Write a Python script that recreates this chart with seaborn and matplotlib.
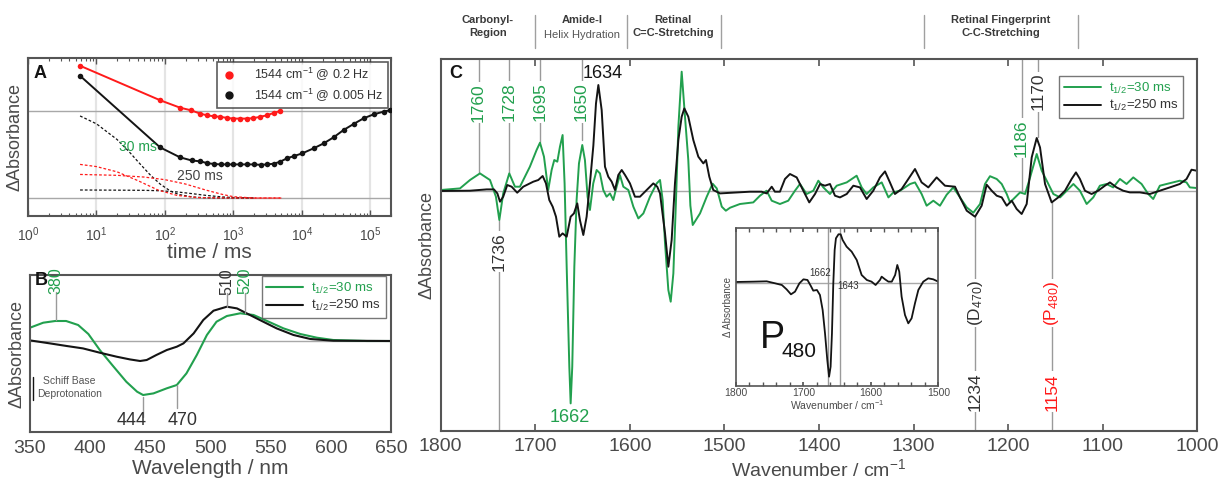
import matplotlib
matplotlib.use("Agg")
import matplotlib.pyplot as plt
from matplotlib.lines import Line2D
from matplotlib.ticker import MultipleLocator, LogLocator, NullFormatter
import seaborn as sns

# ---------------- data ----------------
# Panel A: kinetics at 1544 cm-1
A_red_t = [5.76, 85, 166, 240, 326, 409, 513, 646, 804, 1000, 1260, 1585, 1950, 2450, 3090, 3890, 4800]
A_red_v = [1.515, 1.12, 1.035, 1.005, 0.967, 0.948, 0.937, 0.93, 0.918, 0.91, 0.91, 0.91, 0.915, 0.93, 0.948, 0.975, 0.997]
A_blk_t = [5.76, 85, 166, 246, 330, 410, 520, 650, 800, 1000, 1260, 1585, 2000, 2500, 3100, 3900, 4800,
           6030, 7600, 10000, 14900, 20800, 29000, 40600, 56900, 79600, 112000, 156000, 196000]
A_blk_v = [1.40, 0.58, 0.466, 0.43, 0.42, 0.40, 0.39, 0.385, 0.385, 0.385, 0.385, 0.385, 0.385, 0.38, 0.385, 0.393, 0.416,
           0.454, 0.48, 0.51, 0.57, 0.626, 0.695, 0.779, 0.848, 0.913, 0.959, 0.989, 1.008]
A_c30_t = [5.76, 10, 20, 30, 40, 60, 85, 120, 160, 250, 400, 1000, 2000]
A_c30_v = [0.94, 0.85, 0.67, 0.53, 0.42, 0.27, 0.16, 0.08, 0.04, 0.012, 0.002, 0.0, 0.0]
A_c250_t = [5.76, 20, 50, 85, 150, 250, 400, 700, 1000, 2000]
A_c250_v = [0.092, 0.09, 0.088, 0.083, 0.07, 0.05, 0.03, 0.012, 0.005, 0.0]
A_r1_t = [5.76, 10, 20, 40, 80, 150, 300, 1000, 5000]
A_r1_v = [0.385, 0.36, 0.30, 0.20, 0.09, 0.03, 0.005, 0.0, 0.0]
A_r2_t = [5.76, 20, 50, 100, 200, 400, 700, 1000, 2000, 5000]
A_r2_v = [0.27, 0.26, 0.24, 0.21, 0.16, 0.09, 0.04, 0.015, 0.0, 0.0]
A_ticks = [1, 10, 100, 1000, 10000, 100000]

# Panel B: difference spectra in the visible
B_green_nm = [350, 361, 371, 380, 390, 398.5, 408, 419, 430, 439, 444, 452.6, 463.7, 472, 480, 488.6, 497, 505,
              513.6, 524.7, 535.8, 547, 560.7, 574.6, 588.4, 602, 630, 650]
B_green_v = [0.13, 0.18, 0.197, 0.197, 0.157, 0.067, -0.093, -0.253, -0.41, -0.51, -0.543, -0.527, -0.476, -0.443,
             -0.327, -0.143, 0.057, 0.19, 0.247, 0.274, 0.257, 0.197, 0.123, 0.067, 0.03, 0.007, -0.003, -0.003]
B_black_nm = [350, 366.6, 380.5, 394, 408, 422, 433, 441.5, 447, 455, 463.7, 472, 477.5, 486, 494, 502.5, 513.6,
              522, 530, 541, 555, 569, 583, 602, 650]
B_black_v = [0.003, -0.027, -0.053, -0.077, -0.12, -0.16, -0.187, -0.203, -0.193, -0.143, -0.093, -0.06, -0.027,
             0.073, 0.207, 0.3, 0.34, 0.323, 0.274, 0.207, 0.123, 0.057, 0.017, 0.0, -0.003]
B_ticks = [350, 400, 450, 500, 550, 600, 650]

# Panel C: IR difference spectra
C_green_wn = [1800, 1779.6, 1769, 1758.5, 1747.9, 1741.6, 1738, 1733.9, 1727.5, 1721.5, 1716.2, 1705.7, 1698.6, 1695,
              1690.8, 1686.3, 1682.7, 1679.9, 1676.7, 1673.9, 1671.1, 1669, 1666.8, 1664, 1662.6, 1660.9, 1658.7,
              1656.3, 1653.8, 1650.3, 1647.5, 1644.7, 1642.2, 1638.7, 1635.1, 1631.6, 1628.1, 1624.6, 1621, 1617.5,
              1614, 1610.5, 1606.9, 1601.6, 1596.3, 1591, 1585.7, 1578.7, 1571.6, 1568.1, 1565.3, 1562.8, 1559.3,
              1556.8, 1554, 1551.2, 1548.7, 1545.2, 1541.7, 1538.2, 1536, 1533.5, 1525.8, 1518.7, 1512.5, 1508.1,
              1502.8, 1498.5, 1494, 1483.6, 1469.5, 1462.4, 1455.4, 1450, 1441.3, 1432.5, 1425.4, 1420.1, 1413.1,
              1406, 1400.7, 1395.4, 1388.4, 1381.3, 1370.7, 1360.2, 1354.9, 1349.6, 1342.6, 1333.7, 1326.6, 1321.4,
              1314.3, 1303.7, 1298.5, 1291.5, 1286.2, 1279.1, 1272.1, 1265, 1258, 1250.9, 1243.8, 1236.8, 1229.7,
              1224.5, 1219.2, 1212.1, 1206.8, 1201.5, 1198, 1192.7, 1187.4, 1182.1, 1176.8, 1169.8, 1164.5, 1159.2,
              1152.2, 1145.1, 1138, 1131, 1124.1, 1117, 1110, 1103, 1095.9, 1088.9, 1081.8, 1074.8, 1067.7, 1058.9,
              1051.9, 1046.6, 1039.6, 1032.5, 1025.5, 1018.5, 1011.4, 1007.9, 1000.8]
C_green_v = [0.007, 0.023, 0.107, 0.173, 0.107, -0.06, -0.293, -0.027, 0.173, 0.04, 0.04, 0.24, 0.407, 0.48,
             0.34, 0.007, 0.207, 0.307, 0.29, 0.44, 0.557, 0.073, -0.76, -1.76, -2.127, -1.76, -0.76,
             -0.093, 0.273, 0.457, 0.307, -0.06, -0.193, 0.073, 0.207, 0.173, 0.007, -0.06, -0.027, -0.093,
             0.04, 0.157, 0.04, 0.007, -0.16, -0.277, -0.227, -0.06, 0.073, 0.107, -0.093, -0.527, -0.993,
             -1.11, -0.827, -0.093, 0.64, 1.19, 0.74, 0.307, -0.15, -0.343, -0.227, -0.06, 0.07, 0.023,
             -0.16, -0.2, -0.17, -0.133, -0.117, -0.05, 0.0, -0.1, -0.133, -0.1, 0.0, 0.067, -0.033,
             0.0, 0.1, 0.033, -0.033, 0.05, 0.083, 0.15, 0.033, -0.033, 0.033, 0.083, -0.067, -0.017,
             0.0, 0.067, 0.083, -0.033, -0.15, -0.1, -0.15, -0.04, 0.033, -0.067, -0.167, -0.22, -0.133,
             0.067, 0.145, 0.117, 0.067, -0.033, -0.117, -0.067, -0.017, -0.033, 0.133, 0.367, 0.2, 0.1,
             -0.033, -0.067, 0.0, 0.067, 0.0, -0.133, -0.067, 0.05, 0.067, 0.033, 0.117, 0.067, 0.133, 0.067,
             -0.033, -0.083, 0.05, 0.067, 0.083, 0.1, 0.083, 0.033, 0.027]
C_black_wn = [1800, 1769, 1751.4, 1743.7, 1740.1, 1737.3, 1733.9, 1729.6, 1725, 1719.1, 1712.7, 1702.1, 1696.8,
              1692.2, 1688.7, 1685.2, 1681.6, 1678.1, 1674.6, 1671.1, 1666.8, 1662.6, 1659.1, 1655.6, 1652.8,
              1649.2, 1645.7, 1642.2, 1638.6, 1635.8, 1633.3, 1629.8, 1626.3, 1622.8, 1619.2, 1615.7, 1612.2,
              1608.6, 1605.1, 1599.9, 1594.6, 1589.3, 1582.2, 1575.2, 1571, 1568.1, 1562.8, 1559.3, 1555.8,
              1552.3, 1548.7, 1545.2, 1542.4, 1538.2, 1532.9, 1527.6, 1522.3, 1519.5, 1516, 1511.8, 1504.7,
              1490.6, 1473, 1460.7, 1455.4, 1450, 1446.6, 1441.3, 1436, 1430.7, 1423.6, 1416.6, 1410.3, 1404.2,
              1398.9, 1393.7, 1388.4, 1383.1, 1377.8, 1370.7, 1363.7, 1356.7, 1349.6, 1342.6, 1335.5, 1330.2,
              1325, 1319.7, 1312.6, 1305.6, 1298.5, 1291.5, 1284.4, 1275.6, 1266.8, 1256.2, 1250.9, 1243.8,
              1235, 1228, 1222.7, 1217.4, 1212.1, 1206.8, 1201.5, 1196.2, 1191, 1185.7, 1180.4, 1175.1, 1169.8,
              1166.3, 1161, 1154, 1147, 1139.9, 1132.9, 1128.3, 1124.1, 1118.8, 1111.8, 1104.8, 1097.7, 1092.4,
              1085.4, 1078.4, 1071.3, 1060.7, 1050.2, 1039.6, 1029, 1018.5, 1011.4, 1006.1, 1000.8]
C_black_v = [-0.003, 0.0, 0.013, 0.013, -0.027, -0.11, -0.06, 0.057, 0.04, -0.02, 0.04, 0.09, 0.107,
             0.147, 0.073, -0.093, -0.16, -0.26, -0.46, -0.427, -0.46, -0.26, -0.227, -0.127, -0.293,
             -0.443, -0.26, 0.073, 0.45, 0.873, 1.057, 0.807, 0.24, 0.14, 0.09, 0.007, 0.157,
             0.207, 0.157, 0.073, -0.06, -0.06, 0.007, 0.073, 0.04, -0.027, -0.427, -0.76, -0.493,
             0.073, 0.507, 0.74, 0.823, 0.74, 0.507, 0.34, 0.273, 0.307, 0.14, 0.007, -0.027,
             -0.02, -0.01, -0.01, -0.027, 0.04, -0.01, -0.01, 0.117, 0.167, 0.133, 0.0, -0.117, -0.033,
             0.067, 0.05, 0.067, -0.05, -0.067, -0.033, 0.05, 0.033, -0.083, 0.0, 0.133, 0.193,
             0.083, -0.033, 0.017, 0.117, 0.217, 0.083, 0.033, 0.133, 0.05, 0.04, -0.067, -0.2,
             -0.26, -0.15, 0.06, 0.0, -0.05, -0.067, -0.15, -0.1, -0.183, -0.233, -0.133, 0.333, 0.527,
             0.433, 0.067, -0.117, -0.067, 0.0, 0.117, 0.183, 0.117, 0.0, -0.033, 0.0, 0.05, 0.083,
             0.033, 0.0, -0.017, -0.017, -0.033, 0.0, 0.033, 0.067, 0.117, 0.21, 0.2]
C_ticks = [1800, 1700, 1600, 1500, 1400, 1300, 1200, 1100, 1000]

# Inset: P480 spectrum
I_wn = [1800, 1774, 1754.5, 1742, 1732, 1725, 1718.5, 1712.5, 1706, 1700, 1694, 1689, 1685.4, 1680, 1675.5,
        1671.5, 1668, 1664.6, 1662, 1659.7, 1657.7, 1655.7, 1653.7, 1651.8, 1648, 1644.8, 1641.9, 1636, 1628.5,
        1621, 1613.7, 1606, 1599, 1593, 1586.5, 1584, 1579, 1574, 1569, 1564, 1560.8, 1557.9, 1554.4, 1549.4,
        1544.5, 1539.6, 1534.6, 1529.6, 1522.3, 1514.9, 1507.5, 1500]
I_v = [0.02, 0.03, 0.04, -0.02, -0.07, -0.2, -0.35, -0.27, -0.02, 0.1, 0.08, -0.1, -0.24, -0.22, -0.37,
       -0.82, -1.52, -2.32, -2.82, -2.52, -1.52, -0.02, 0.98, 1.33, 1.45, 1.45, 1.28, 1.08, 0.93,
       0.68, 0.23, 0.08, 0.03, -0.07, 0.08, 0.18, 0.1, 0.03, 0.03, 0.23, 0.53, 0.33, -0.42, -0.97,
       -1.22, -1.07, -0.62, -0.22, 0.03, 0.13, 0.1, 0.03]
I_ticks = [1800, 1700, 1600, 1500]

# ---------------- style ----------------
sns.set_theme(style="white")
plt.rcParams['font.family'] = ['Liberation Sans', 'DejaVu Sans']
plt.rcParams['mathtext.default'] = 'regular'
plt.rcParams['axes.unicode_minus'] = False

GREEN = '#22a04e'
RED = '#ff1a1a'
BLACK = '#141414'
TXT = '#4a4a4a'
SPINE = '#555555'
LEAD = '#9a9a9a'
HLINE = '#a8a8a8'

W, H = 1228, 484
fig = plt.figure(figsize=(W / 100, H / 100), dpi=100)


def rect(l, t, r, b):
    return [l / W, 1 - b / H, (r - l) / W, (b - t) / H]


def style_spines(ax, lw=1.5):
    for s in ax.spines.values():
        s.set_color(SPINE)
        s.set_linewidth(lw)
        s.set_visible(True)


# ---------------- Panel A ----------------
axA = fig.add_axes(rect(28, 58, 391, 216))
axA.set_xscale('log')
axA.set_xlim(1, 2e5)
axA.set_ylim(-0.206, 1.604)
axA.grid(axis='x', which='major', color='#e4e4e4', lw=1.6)
axA.set_axisbelow(True)
axA.axhline(0, color=HLINE, lw=1, zorder=1)
axA.axhline(1, color=HLINE, lw=1, zorder=1)
dash = (0, (2.2, 1.6))
sns.lineplot(x=A_c30_t, y=A_c30_v, ax=axA, color=BLACK, lw=0.9, linestyle=dash, estimator=None)
sns.lineplot(x=A_c250_t, y=A_c250_v, ax=axA, color=BLACK, lw=0.9, linestyle=dash, estimator=None)
sns.lineplot(x=A_r1_t, y=A_r1_v, ax=axA, color=RED, lw=0.9, linestyle=dash, estimator=None)
sns.lineplot(x=A_r2_t, y=A_r2_v, ax=axA, color=RED, lw=0.9, linestyle=dash, estimator=None)
sns.lineplot(x=A_red_t, y=A_red_v, ax=axA, color=RED, lw=1.4, estimator=None)
sns.lineplot(x=A_blk_t, y=A_blk_v, ax=axA, color=BLACK, lw=1.4, estimator=None)
sns.scatterplot(x=A_red_t, y=A_red_v, ax=axA, color=RED, s=16, linewidth=0, zorder=5)
sns.scatterplot(x=A_blk_t, y=A_blk_v, ax=axA, color=BLACK, s=16, linewidth=0, zorder=5)
axA.set_xticks(A_ticks)
axA.xaxis.set_minor_locator(LogLocator(base=10, subs=range(2, 10), numticks=20))
axA.xaxis.set_minor_formatter(NullFormatter())
axA.tick_params(axis='x', which='both', direction='in', top=True, bottom=True, colors=SPINE,
                labelcolor=TXT, labelsize=10)
axA.tick_params(axis='x', which='major', length=4, width=1, pad=7)
axA.tick_params(axis='x', which='minor', length=2.5, width=0.8)
axA.set_yticks([])
axA.set_xlabel('time / ms', fontsize=15, color=TXT, labelpad=-1)
axA.set_ylabel('ΔAbsorbance', fontsize=13, color=TXT, labelpad=3)
style_spines(axA)
axA.text(40.5, 0.588, '30 ms', color=GREEN, fontsize=10, ha='center', va='center')
axA.text(321, 0.252, '250 ms', color='#444444', fontsize=10, ha='center', va='center')
axA.text(0.014, 0.905, 'A', transform=axA.transAxes, fontsize=13, fontweight='bold', color=BLACK,
         ha='left', va='center')
hA = [Line2D([], [], ls='none', marker='o', ms=5, color=RED, mec=RED),
      Line2D([], [], ls='none', marker='o', ms=5, color=BLACK, mec=BLACK)]
legA = axA.legend(hA, ['1544 cm$^{-1}$ @ 0.2 Hz', '1544 cm$^{-1}$ @ 0.005 Hz'], loc='upper right',
                  bbox_to_anchor=(0.992, 0.975), borderaxespad=0, fontsize=9, frameon=True, fancybox=False,
                  handlelength=1.2, handletextpad=1.4, borderpad=0.35, labelspacing=0.25)
legA.get_frame().set_edgecolor('#333333')
legA.get_frame().set_linewidth(1.2)
for t in legA.get_texts():
    t.set_color('#333333')

# ---------------- Panel B ----------------
axB = fig.add_axes(rect(30, 275, 391, 432))
axB.set_xlim(350, 650)
axB.set_ylim(-0.913, 0.657)
axB.axhline(0, color=HLINE, lw=1, zorder=1)
sns.lineplot(x=B_green_nm, y=B_green_v, ax=axB, color=GREEN, lw=1.5, estimator=None, label='t$_{1/2}$=30 ms')
sns.lineplot(x=B_black_nm, y=B_black_v, ax=axB, color=BLACK, lw=1.5, estimator=None, label='t$_{1/2}$=250 ms')
axB.set_xticks(B_ticks)
axB.set_yticks([])
axB.tick_params(axis='x', direction='in', length=3, colors=SPINE, labelcolor=TXT, labelsize=14, pad=6)
axB.set_xlabel('Wavelength / nm', fontsize=15, color=TXT, labelpad=1)
axB.set_ylabel('ΔAbsorbance', fontsize=13, color=TXT, labelpad=3)
style_spines(axB)
axB.text(0.03, 0.965, 'B', transform=axB.transAxes, fontsize=13, fontweight='bold', color=BLACK,
         ha='center', va='center')
# annotations
for x, y0, y1, lab, col, ty in [(371.6, 0.207, 0.49, '380', GREEN, 0.6),
                                (513.5, 0.34, 0.477, '510', '#333333', 0.59),
                                (528.6, 0.274, 0.477, '520', GREEN, 0.6)]:
    axB.plot([x, x], [y0, y1], color=LEAD, lw=1)
    axB.text(x, ty, lab, rotation=90, color=col, fontsize=11.5, ha='center', va='center', clip_on=False)
axB.plot([443.6, 443.6], [-0.56, -0.76], color=LEAD, lw=1)
axB.plot([472, 472], [-0.443, -0.67], color=LEAD, lw=1)
axB.text(434.8, -0.80, '444', color='#333333', fontsize=13, ha='center', va='center')
axB.text(477, -0.80, '470', color='#333333', fontsize=13, ha='center', va='center')
axB.plot([352.5, 352.5], [-0.363, -0.593], color=BLACK, lw=1)
axB.text(383, -0.47, 'Schiff Base\nDeprotonation', color='#555555', fontsize=7.5, ha='center', va='center',
         linespacing=1.3)
legB = axB.legend(loc='upper right', bbox_to_anchor=(0.985, 0.995), borderaxespad=0, fontsize=9.5,
                  frameon=True, fancybox=False, handlelength=2.8, handletextpad=0.6, borderpad=0.35,
                  labelspacing=0.2, labelcolor=[GREEN, '#333333'])
legB.get_frame().set_edgecolor('#555555')
legB.get_frame().set_linewidth(1)

# ---------------- Panel C ----------------
axC = fig.add_axes(rect(440.7, 59.3, 1197.3, 431))
axC.set_xlim(1800, 1000)
axC.set_ylim(-2.403, 1.314)
axC.axhline(0, color=HLINE, lw=1, zorder=1)
YTOP, YBOT = 1.314, -2.403
# leader lines
for x, y0, y1 in [(1760, 0.173, YTOP), (1727.5, 0.174, YTOP), (1695, 0.49, YTOP), (1651, 0.507, YTOP),
                  (1738, -0.29, YBOT), (1185.8, 0.0, YTOP), (1168.7, 0.54, YTOP),
                  (1235, -0.26, YBOT), (1154, -0.117, YBOT)]:
    axC.plot([x, x], [y0, y1], color=LEAD, lw=1, zorder=1)
sns.lineplot(x=C_green_wn, y=C_green_v, ax=axC, color=GREEN, lw=1.4, estimator=None, label='t$_{1/2}$=30 ms')
sns.lineplot(x=C_black_wn, y=C_black_v, ax=axC, color=BLACK, lw=1.4, estimator=None, label='t$_{1/2}$=250 ms')
bb = dict(facecolor='white', edgecolor='none', pad=1.0)
for x, y, lab, col in [(1760, 0.882, '1760', GREEN), (1727.5, 0.887, '1728', GREEN),
                       (1695, 0.887, '1695', GREEN), (1651, 0.887, '1650', GREEN),
                       (1738, -0.61, '1736', '#333333'), (1185.8, 0.524, '1186', GREEN),
                       (1168.7, 0.99, '1170', '#333333'), (1235, -2.01, '1234', '#333333'),
                       (1154, -2.01, '1154', RED), (1235, -1.123, '(D$_{470}$)', '#333333'),
                       (1154, -1.123, '(P$_{480}$)', RED)]:
    axC.text(x, y, lab, rotation=90, color=col, fontsize=12.5, ha='center', va='center', bbox=bb, zorder=3)
axC.text(1628.4, 1.177, '1634', color=BLACK, fontsize=13, ha='center', va='center')
axC.text(1663.3, -2.273, '1662', color=GREEN, fontsize=13, ha='center', va='center')
axC.set_xticks(C_ticks)
axC.set_yticks([])
axC.tick_params(axis='x', direction='in', length=5, width=1.2, top=True, bottom=True, colors=SPINE,
                labelcolor=TXT, labelsize=14, pad=5)
axC.set_xlabel('Wavenumber / cm$^{-1}$', fontsize=14, color=TXT, labelpad=2)
axC.set_ylabel('ΔAbsorbance', fontsize=13, color=TXT, labelpad=4)
style_spines(axC)
axC.text(0.0115, 0.963, 'C', transform=axC.transAxes, fontsize=13, fontweight='bold', color=BLACK,
         ha='left', va='center')
legC = axC.legend(loc='upper right', bbox_to_anchor=(0.981, 0.955), borderaxespad=0, fontsize=9.5,
                  frameon=True, fancybox=False, handlelength=2.8, handletextpad=0.6, borderpad=0.35,
                  labelspacing=0.2, labelcolor=[GREEN, '#333333'])
legC.get_frame().set_edgecolor('#555555')
legC.get_frame().set_linewidth(1)

# header regions above panel C
xt = axC.get_xaxis_transform()
for x in [1700, 1603.4, 1503.7, 1289, 1126.3]:
    axC.plot([x, x], [1.03, 1.119], color='#a0a0a0', lw=1, transform=xt, clip_on=False)
HC = '#3a3a3a'
axC.text(1750, 1.088, 'Carbonyl-\nRegion', transform=xt, ha='center', va='center', fontsize=8,
         fontweight='bold', color=HC, linespacing=1.4)
axC.text(1650.6, 1.106, 'Amide-I', transform=xt, ha='center', va='center', fontsize=8, fontweight='bold',
         color=HC)
axC.text(1650.6, 1.065, 'Helix Hydration', transform=xt, ha='center', va='center', fontsize=8, color='#555555')
axC.text(1554.4, 1.088, 'Retinal\nC=C-Stretching', transform=xt, ha='center', va='center', fontsize=8,
         fontweight='bold', color=HC, linespacing=1.4)
axC.text(1207.6, 1.088, 'Retinal Fingerprint\nC-C-Stretching', transform=xt, ha='center', va='center',
         fontsize=8, fontweight='bold', color=HC, linespacing=1.4)

# ---------------- Inset ----------------
axI = fig.add_axes(rect(736, 228.3, 938.3, 385.7))
axI.set_facecolor('white')
axI.set_xlim(1800, 1500)
axI.set_ylim(-3.09, 1.63)
axI.axhline(0, color=HLINE, lw=1, zorder=1)
axI.axvline(1663, color=LEAD, lw=1, zorder=1)
axI.axvline(1645.8, color=LEAD, lw=1, zorder=1)
sns.lineplot(x=I_wn, y=I_v, ax=axI, color=BLACK, lw=1.3, estimator=None)
axI.set_xticks(I_ticks)
axI.xaxis.set_minor_locator(MultipleLocator(20))
axI.set_yticks([])
axI.tick_params(axis='x', which='both', direction='in', top=True, bottom=True, colors=SPINE,
                labelcolor=TXT, labelsize=7.5, pad=2)
axI.tick_params(axis='x', which='major', length=3)
axI.tick_params(axis='x', which='minor', length=3)
axI.set_xlabel('Wavenumber / cm$^{-1}$', fontsize=7.5, color=TXT, labelpad=0)
axI.set_ylabel('Δ Absorbance', fontsize=7, color=TXT, labelpad=2)
style_spines(axI, lw=1.2)
axI.text(1675.4, 0.30, '1662', fontsize=7, color='#333333', ha='center', va='center')
axI.text(1633.2, -0.09, '1643', fontsize=7, color='#333333', ha='center', va='center')
axI.text(0.12, 0.24, 'P', transform=axI.transAxes, fontsize=27, color=BLACK, ha='left', va='baseline')
axI.text(0.226, 0.185, '480', transform=axI.transAxes, fontsize=15, color=BLACK, ha='left', va='baseline')

fig.savefig('out.png', dpi=100)
